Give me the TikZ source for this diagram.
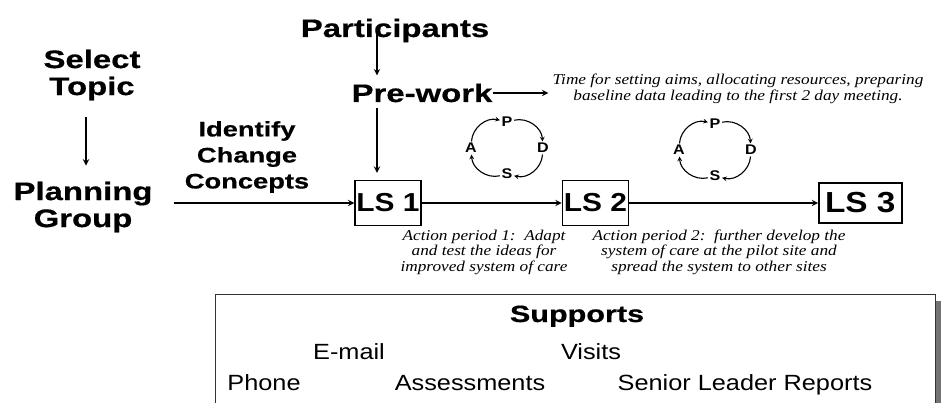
\documentclass[tikz,border=0pt]{standalone}
\usepackage{fontspec}
\usepackage{tikz}
\usetikzlibrary{positioning,shadows}

\newfontfamily\headfont{Liberation Sans}[FakeStretch=1.3,FakeBold=0.6]
\newfontfamily\bodyfont{Liberation Sans}[FakeStretch=1.15]
\newfontfamily\notefont{Liberation Serif}[FakeStretch=1.15]

\begin{document}
\begin{tikzpicture}[%
    x=1pt,y=1pt,>=stealth,
    head/.style={%
      font=\headfont\bfseries\fontsize{25.3}{27}\selectfont,align=center,inner sep=0pt},
    subhead/.style={%
      font=\headfont\bfseries\fontsize{21}{26}\selectfont,align=center,inner sep=0pt},
    lsbox/.style={%
      draw,line width=1.4pt,inner sep=0pt,minimum width=66,minimum height=45,
      font=\bodyfont\bfseries\fontsize{26}{26}\selectfont},
    note/.style={%
      font=\notefont\itshape\fontsize{15}{15.5}\selectfont,align=center,inner sep=0pt},
    pdsa/.style={font=\bodyfont\bfseries\fontsize{14}{14}\selectfont,inner sep=1.5pt},
    link/.style={->,line width=1.8pt},
    cyc/.style={->,line width=1.1pt},
    plain/.style={font=\bodyfont\fontsize{22}{22}\selectfont,anchor=base,inner sep=0pt}
  ]
    \useasboundingbox (0,0) rectangle (941,402);
    \clip (0,0) rectangle (941,402);

    % left column and top inputs
    \node[head] (seltopic) at (92,327)            {Select\\Topic};
    \node[head] (plangrp)  at (83,195)            {Planning\\Group};
    \node[subhead] (ident) at (247,245)           {Identify\\Change\\Concepts};
    \node[head,anchor=base] (part)    at (395,365) {Participants};
    \node[head,anchor=base] (prework) at (422,300) {Pre-work};

    % learning sessions
    \node[lsbox] (ls1) at (388,199)                  {LS 1};
    \node[lsbox] (ls2) [node distance=140pt, right=of ls1] {LS 2};
    \node[lsbox,minimum width=83,minimum height=40,
          font=\bodyfont\bfseries\fontsize{29}{29}\selectfont]
                 (ls3) [node distance=189pt, right=of ls2] {LS 3};
    \coordinate (drop) at ([xshift=-11pt]ls1.north);

    \node[note] (prenote) at (738,313)
      {Time for setting aims, allocating resources, preparing\\
       baseline data leading to the first 2 day meeting.};
    \node[note] (ap1) at (484,150)
      {Action period 1:\ \ Adapt\\and test the ideas for\\improved system of care};
    \node[note] (ap2) at (719,150)
      {Action period 2:\ \ further develop the\\system of care at the pilot site and\\
       spread the system to other sites};

    \draw[link,shorten <=17pt,shorten >=16pt]
      ([xshift=-6pt]seltopic.south) -- ([xshift=-6pt]seltopic.south |- plangrp.north);
    \draw[link,shorten <=-5pt,shorten >=8pt] (part.base -| drop) -- (prework.north -| drop);
    \draw[link,shorten <=6pt,shorten >=7pt] (prework.south -| drop) -- (drop);
    \draw[link,shorten >=4pt] (prework.east) -- (prework.east -| prenote.west);
    \draw[link,shorten <=21pt] (plangrp.east |- ls1) -- (ls1);
    \draw[link] (ls1) -- (ls2);
    \draw[link] (ls2) -- (ls3);

    % plan-do-study-act cycles between sessions
    \foreach \cx/\cy/\tag in {507/254/a,715/252/b}{
      \node[pdsa] (P\tag) at (\cx,\cy+26) {P};
      \node[pdsa] (D\tag) at (\cx+36,\cy) {D};
      \node[pdsa] (S\tag) at (\cx,\cy-26) {S};
      \node[pdsa] (A\tag) at (\cx-36,\cy) {A};
      \draw[cyc] (A\tag) to[bend left=50] (P\tag);
      \draw[cyc] (P\tag) to[bend left=50] (D\tag);
      \draw[cyc] (D\tag) to[bend left=50] (S\tag);
      \draw[cyc] (S\tag) to[bend left=50] (A\tag);
    }

    % supports panel
    \node[draw=black!80,line width=1.2pt,fill=white,anchor=north west,
          minimum width=720,minimum height=140,
          drop shadow={shadow xshift=6pt,shadow yshift=-6pt,fill=black!55,opacity=1}]
          (supbox) at (215,108) {};
    \node[plain,font=\headfont\bfseries\fontsize{23.5}{23.5}\selectfont]
          (supports) at (577,80) {Supports};
    \node[plain] (email)  at (349,43) {E-mail};
    \node[plain] (visits) at (591,43) {Visits};
    \node[plain] (phone)  at (264,11.5) {Phone};
    \node[plain] (assess) at (470,11.5) {Assessments};
    \node[plain] (senior) at (745,11.5) {Senior Leader Reports};
\end{tikzpicture}
\end{document}
